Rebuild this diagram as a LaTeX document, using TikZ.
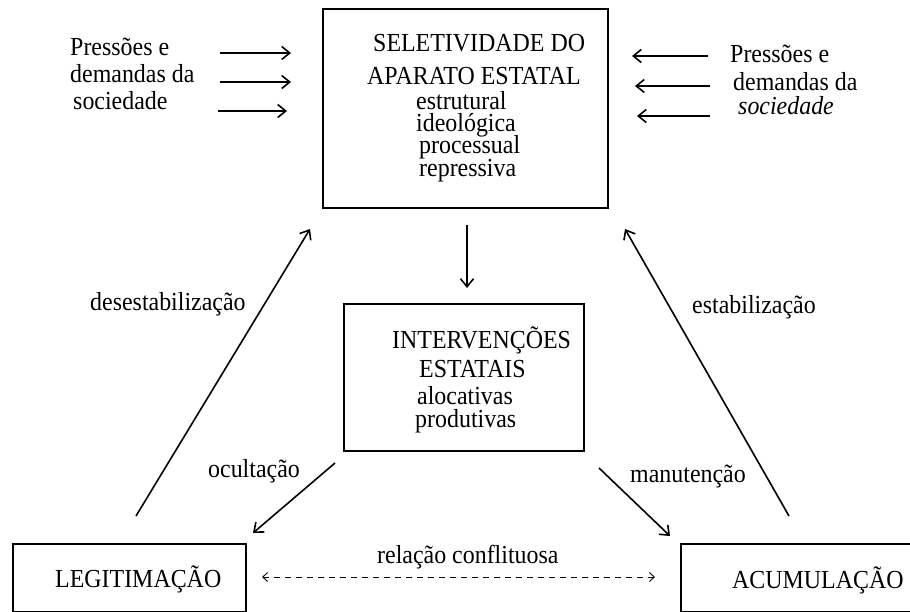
\documentclass[tikz,border=0pt]{standalone}
\usepackage{fontspec}
\setmainfont{Liberation Serif}[FakeStretch=0.92]
\usetikzlibrary{arrows.meta}
\newcommand\mytightlines{\lineskiplimit=-100pt\relax}
\begin{document}
\begin{tikzpicture}[x=1pt,y=-1pt,
  box/.style={draw=black,line width=2pt,rectangle,inner sep=0pt,anchor=north west},
  txt/.style={anchor=base west,inner sep=0pt,font=\fontsize{26}{30}\selectfont},
  tight/.style={anchor=base west,inner sep=0pt,align=left},
  conn/.style={line width=1.6pt,-{Straight Barb[length=8pt,width=13pt,line width=1.6pt]}},
  dconn/.style={line width=0.9pt,dash pattern=on 6pt off 5pt,{Straight Barb[length=5pt,width=9pt]}-{Straight Barb[length=5pt,width=9pt]}}]
\useasboundingbox (0,0) rectangle (910,612);
% boxes
\node[box,minimum width=285pt,minimum height=199pt] (sel) at (322,8) {};
\node[box,minimum width=240pt,minimum height=147pt] (int) at (343,303) {};
\node[box,minimum width=233pt,minimum height=68pt] (leg) at (12,543) {};
\node[box,minimum width=240pt,minimum height=68pt] (acu) at (680,543) {};
% top box text
\node[tight,font={\fontsize{26}{22.3}\selectfont\mytightlines}] (s1) at (367,177)
  {\hspace*{6pt}SELETIVIDADE DO\\[10.7pt]
   APARATO ESTATAL\\[2.7pt]
   \hspace*{49pt}estrutural\\
   \hspace*{49pt}ideológica\\
   \hspace*{52pt}processual\\[0.7pt]
   \hspace*{52pt}repressiva};
% middle box text
\node[tight,font={\fontsize{26}{23}\selectfont\mytightlines}] (i1) at (392,427)
  {INTERVENÇÕES\\[6pt]
   \hspace*{27pt}ESTATAIS\\[4pt]
   \hspace*{25pt}alocativas\\
   \hspace*{23pt}produtivas};
% bottom boxes text
\node[txt] (l1) at (55,587) {LEGITIMAÇÃO};
\node[txt] (a1) at (732,588) {ACUMULAÇÃO};
% side texts
\node[txt] (pl1) at (70,56) {Pressões e};
\node[txt] (pl2) at (70,83) {demandas da};
\node[txt] (pl3) at (73,110) {sociedade};
\node[txt] (pr1) at (730,63) {Pressões e};
\node[txt] (pr2) at (733,91) {demandas da};
\node[txt] (pr3) at (738,115) {\itshape sociedade};
% labels
\node[txt] (ld) at (90,310) {desestabilização};
\node[txt] (le) at (692,313) {estabilização};
\node[txt] (lo) at (208,477) {ocultação};
\node[txt] (lm) at (630,482) {manutenção};
\node[txt] (lr) at (377,563) {relação conflituosa};
% coordinates
\coordinate (la1) at (220,53); \coordinate (lb1) at (291,53);
\coordinate (la2) at (220,82); \coordinate (lb2) at (291,82);
\coordinate (la3) at (218,111); \coordinate (lb3) at (287,111);
\coordinate (ra1) at (708,56); \coordinate (rb1) at (632,56);
\coordinate (ra2) at (710,86); \coordinate (rb2) at (635,86);
\coordinate (ra3) at (710,116); \coordinate (rb3) at (637,116);
\coordinate (da) at (467,225); \coordinate (db) at (467,288);
\coordinate (dsa) at (136,516); \coordinate (dsb) at (310,229);
\coordinate (esa) at (789,516); \coordinate (esb) at (625,229);
\coordinate (oca) at (335,463); \coordinate (ocb) at (253,533);
\coordinate (maa) at (599,468); \coordinate (mab) at (670,536);
\coordinate (rca) at (262,577); \coordinate (rcb) at (655,577);
% connectors
\draw[conn] (la1) -- (lb1);
\draw[conn] (la2) -- (lb2);
\draw[conn] (la3) -- (lb3);
\draw[conn] (ra1) -- (rb1);
\draw[conn] (ra2) -- (rb2);
\draw[conn] (ra3) -- (rb3);
\draw[conn] (da) -- (db);
\draw[conn] (dsa) -- (dsb);
\draw[conn] (esa) -- (esb);
\draw[conn] (oca) -- (ocb);
\draw[conn] (maa) -- (mab);
\draw[dconn] (rca) -- (rcb);
\end{tikzpicture}
\end{document}
